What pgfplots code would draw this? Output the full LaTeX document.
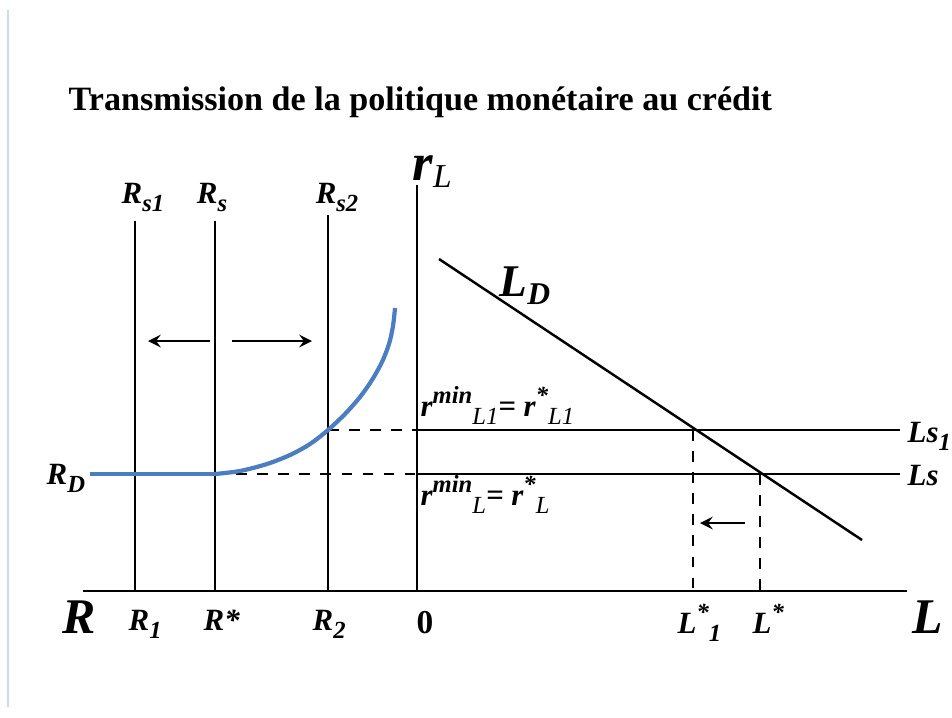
\documentclass[border=0pt]{standalone}
\usepackage{pgfplots}
\pgfplotsset{compat=1.18}
\usepackage{fontspec}
\setmainfont{Liberation Serif}
\definecolor{curveblue}{RGB}{74,126,193}
\definecolor{edgeblue}{RGB}{205,218,238}
\newcommand{\lbl}[1]{\fontsize{8.8}{10}\selectfont\bfseries\itshape #1}
\newcommand{\sbs}[1]{\raisebox{-0.28em}{\fontsize{7}{8}\selectfont #1}}
\newcommand{\sps}[1]{\raisebox{0.4em}{\fontsize{7}{8}\selectfont #1}}
\begin{document}
\begin{tikzpicture}
\begin{axis}[
    width=9.52cm, height=7.17cm, scale only axis,
    xmin=0, xmax=952, ymin=0, ymax=717,
    axis lines=none, clip=false,
]
    \path (axis cs:0,0) rectangle (axis cs:952,717);

    % faint page edge
    \addplot[edgeblue, line width=0.4pt] coordinates {(8,707) (8,10)};

    % axes
    \addplot[black, line width=0.6pt] coordinates {(83,126) (907,126)};
    \addplot[black, line width=0.6pt] coordinates {(417,532) (417,126)};

    % reserve supply lines
    \addplot[black, line width=0.6pt] coordinates {(135,496) (135,126)};
    \addplot[black, line width=0.6pt] coordinates {(215,496) (215,126)};
    \addplot[black, line width=0.6pt] coordinates {(328,502) (328,126)};

    % credit supply lines
    \addplot[black, line width=0.6pt] coordinates {(417,287) (900,287)};
    \addplot[black, line width=0.6pt] coordinates {(417,243) (900,243)};

    % credit demand
    \addplot[black, line width=0.7pt] coordinates {(439,458) (862,177)};

    % dashed guides
    \addplot[black, dashed, line width=0.5pt] coordinates {(328,287) (417,287)};
    \addplot[black, dashed, line width=0.5pt] coordinates {(215,243) (417,243)};
    \addplot[black, dashed, line width=0.5pt] coordinates {(693,287) (693,126)};
    \addplot[black, dashed, line width=0.5pt] coordinates {(760,243) (760,126)};

    % reserve demand curve
    \addplot[curveblue, line width=1.2pt] coordinates {(90,243) (215,243)};
    \addplot[curveblue, line width=1.2pt, smooth] coordinates {
        (215,243) (240,246) (267,253) (290,262) (310,273) (328,287)
        (345,303) (360,320) (372,337) (382,355) (389,373) (393,391) (395,409)
    };

    % arrows
    \addplot[black, line width=0.6pt, -stealth] coordinates {(210,376) (148,376)};
    \addplot[black, line width=0.6pt, -stealth] coordinates {(232,376) (312,376)};
    \addplot[black, line width=0.6pt, -stealth] coordinates {(745,194) (700,194)};

    % title
    \node[anchor=base west, inner sep=0pt, font=\fontsize{9.7}{11}\selectfont\bfseries]
        at (axis cs:68,607) {Transmission de la politique monétaire au crédit};

    % top labels
    \node[anchor=base, inner sep=0pt] at (axis cs:143,514) {\lbl{R\sbs{s1}}};
    \node[anchor=base, inner sep=0pt] at (axis cs:212,514) {\lbl{R\sbs{s}}};
    \node[anchor=base, inner sep=0pt] at (axis cs:337,514) {\lbl{R\sbs{s2}}};
    \node[anchor=base west, inner sep=0pt] at (axis cs:412,537)
        {{\fontsize{15}{15}\selectfont\bfseries\itshape r}\raisebox{-2pt}{\fontsize{9.5}{10}\selectfont\itshape L}};
    \node[anchor=base west, inner sep=0pt] at (axis cs:499,421)
        {{\fontsize{12.9}{14}\selectfont\bfseries\itshape L}\raisebox{-2.5pt}{\fontsize{9}{10}\selectfont\bfseries\itshape D}};

    % rate labels
    \node[anchor=base west, inner sep=0pt] at (axis cs:420,301)
        {\lbl{r\sps{min}\sbs{\mdseries L1}= r\sps{*}\sbs{\mdseries L1}}};
    \node[anchor=base west, inner sep=0pt] at (axis cs:420,212)
        {\lbl{r\sps{min}\sbs{\mdseries L}= r\sps{*}\sbs{\mdseries L}}};
    \node[anchor=base west, inner sep=0pt] at (axis cs:907,275) {\lbl{Ls\sbs{1}}};
    \node[anchor=base west, inner sep=0pt] at (axis cs:907,232) {\lbl{Ls}};
    \node[anchor=base west, inner sep=0pt] at (axis cs:46,233) {\lbl{R\sbs{D}}};

    % bottom labels
    \node[anchor=base west, inner sep=0pt] at (axis cs:62,84)
        {\fontsize{14.2}{16}\selectfont\bfseries\itshape R};
    \node[anchor=base west, inner sep=0pt] at (axis cs:128,87) {\lbl{R\sbs{1}}};
    \node[anchor=base west, inner sep=0pt] at (axis cs:203,87) {\lbl{R*}};
    \node[anchor=base west, inner sep=0pt] at (axis cs:312,87) {\lbl{R\sbs{2}}};
    \node[anchor=base west, inner sep=0pt] at (axis cs:416,84)
        {\fontsize{9.5}{10}\selectfont\bfseries 0};
    \node[anchor=base west, inner sep=0pt] at (axis cs:677,84)
        {\lbl{L\sps{*}\sbs{1}}};
    \node[anchor=base west, inner sep=0pt] at (axis cs:752,84)
        {\lbl{L\sps{*}}};
    \node[anchor=base west, inner sep=0pt] at (axis cs:912,84)
        {\fontsize{14.2}{16}\selectfont\bfseries\itshape L};
\end{axis}
\end{tikzpicture}
\end{document}
